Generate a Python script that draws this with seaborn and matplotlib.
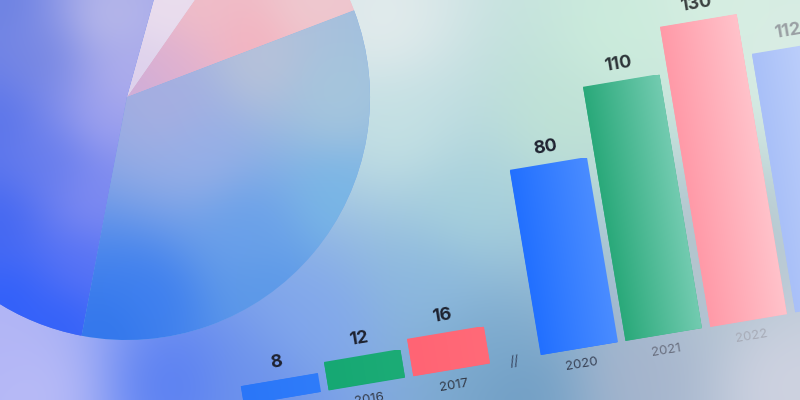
import numpy as np
import pandas as pd
import matplotlib
matplotlib.use("Agg")
import matplotlib.pyplot as plt
import seaborn as sns
from matplotlib.transforms import Affine2D
from matplotlib.colors import to_rgb

# --- data ---
years = ["2015", "2016", "2017", "2020", "2021", "2022", "2023"]
values = [8, 12, 16, 80, 110, 130, 112]
pie_shares = [9.5, 5.4, 51.3, 33.8]

# --- styles ---
bar_left = ["#2a76f8", "#16a873", "#ff6474", "#2270ff", "#2aa97a", "#ff9aa8", "#a9c0f8"]
bar_right = ["#2f7cfa", "#1cac76", "#ff6a78", "#4a8cff", "#72cbb0", "#ffc2ca", "#c6d6fc"]
value_colors = ["#1e2230", "#1e2230", "#1e2230", "#1e2230", "#2c3438", "#3a4040", "#9aa0a4"]
year_colors = ["#333a48", "#333a48", "#333a48", "#3a4458", "#6a7080", "#a8acb8", "#c0c4cc"]

# background anchors, image pixel coords (x, y from top)
bg_anchors = [
    (0, 350, "#b4b6f6"), (40, 395, "#c0c0f8"), (170, 385, "#5078f4"),
    (260, 395, "#6a90ec"), (320, 320, "#82a8ee"), (400, 130, "#c8e4e4"),
    (385, 25, "#e8eeee"), (470, 210, "#a8d4dc"), (430, 285, "#8ab8e0"),
    (480, 345, "#78a8cc"), (520, 392, "#6898c0"), (620, 40, "#cdeedc"),
    (720, 10, "#d8f0e2"), (785, 60, "#dceee6"), (640, 375, "#a8b4cc"),
    (785, 385, "#d2d4e2"), (560, 120, "#c0e4d4"), (700, 250, "#b4c4cc"),
]
pie_anchors = [
    # pink slice
    [(200, 8, "#f2c0c8"), (300, 8, "#eecdd2"), (170, 70, "#e0b0d0"),
     (140, 92, "#c8acdc"), (255, 40, "#f6b0bc")],
    # light slice
    [(165, 8, "#ecdfee"), (140, 70, "#dcd0ec")],
    # left slice
    [(0, 0, "#6a80e2"), (0, 120, "#5470ea"), (0, 220, "#3c62f2"),
     (10, 300, "#2a5cfc"), (60, 320, "#2c5efa"), (45, 60, "#7082e0"),
     (55, 160, "#6078ec"), (105, 20, "#c4c2ea"), (100, 120, "#a8a8f0"),
     (90, 200, "#8890f2"), (80, 270, "#5a74f6"), (122, 80, "#b8b4ec")],
    # large slice
    [(260, 65, "#bcc4d8"), (335, 100, "#a8c8dc"), (200, 150, "#98b0e8"),
     (335, 200, "#78b8e6"), (250, 230, "#68a0ea"), (150, 300, "#3c7ef0"),
     (270, 290, "#5a98e8"), (110, 332, "#2f74ec"), (170, 108, "#aaaee0")],
]

W, H = 800, 400
PITCH, SCALE = 86.0, 2.335
PIVOT = (540.7, 45.0)
ANGLE = 9.5


def soft_field(anchors, step=4, soft=60.0):
    gx, gy = np.meshgrid(np.arange(0, W, step) + step / 2, np.arange(0, H, step) + step / 2)
    num = np.zeros(gx.shape + (3,))
    den = np.zeros(gx.shape)
    for x, y, c in anchors:
        w = 1.0 / (((gx - x) ** 2 + (gy - y) ** 2) + soft ** 2) ** 1.5
        num += w[..., None] * np.array(to_rgb(c))
        den += w
    return num / den[..., None]


sns.set_theme(style="white")
plt.rcParams["font.family"] = ["Inter", "DejaVu Sans"]

fig = plt.figure(figsize=(8, 4), dpi=100)

# background + pie
axbg = fig.add_axes([0, 0, 1, 1])
axbg.imshow(soft_field(bg_anchors), extent=(0, W, 0, H), origin="upper",
            interpolation="bilinear", aspect="auto", zorder=0)
wedges, _ = axbg.pie(pie_shares, startangle=20.9, center=(127, 303), radius=243,
                     colors=["#f0c0cc", "#e8dcee", "#5070ee", "#7aaaea"],
                     wedgeprops=dict(linewidth=0))
for wdg, anchors in zip(wedges, pie_anchors):
    im = axbg.imshow(soft_field(anchors, soft=45.0), extent=(0, W, 0, H), origin="upper",
                     interpolation="bilinear", aspect="auto", zorder=2)
    im.set_clip_path(wdg)
axbg.set_xlim(0, W)
axbg.set_ylim(0, H)
axbg.set_aspect("auto")
axbg.set_axis_off()

# bars (drawn straight, then tilted)
slots = [i + 0.5 if i >= 3 else float(i) for i in range(len(years))]
df = pd.DataFrame({"year": years, "value": values, "slot": slots})

axb = fig.add_axes([0, 0, 1, 1])
sns.barplot(data=df, x="slot", y="value", hue="year", palette=bar_left,
            native_scale=True, width=0.9, saturation=1, errorbar=None,
            legend=False, ax=axb)
x_ref = 3.5 - 0.45
axb.set_autoscale_on(False)
axb.set_xlim(x_ref - PIVOT[0] / PITCH, x_ref + (W - PIVOT[0]) / PITCH)
axb.set_ylim(-PIVOT[1] / SCALE, (H - PIVOT[1]) / SCALE)
axb.set_axis_off()

rot = Affine2D().rotate_deg_around(PIVOT[0], PIVOT[1], ANGLE)
tr = axb.transData + rot

for p in list(axb.patches):
    cx = p.get_x() + p.get_width() / 2
    i = int(np.argmin([abs(cx - s) for s in slots]))
    p.set_transform(tr)
    p.set_linewidth(0)
    rgb = np.linspace(to_rgb(bar_left[i]), to_rgb(bar_right[i]), 64)
    grad = np.concatenate([rgb, np.ones((64, 1))], axis=1)[None, :, :]
    im = axb.imshow(grad, extent=(p.get_x(), p.get_x() + p.get_width(), 0, p.get_height()),
                    interpolation="bilinear", aspect="auto", zorder=3)
    im.set_transform(tr)
    im.set_clip_path(p)

for i, (s, v) in enumerate(zip(slots, values)):
    axb.text(s, v + 7.4, str(v), transform=tr, rotation=ANGLE, rotation_mode="anchor",
             ha="center", va="center", fontsize=13, fontweight="bold",
             color=value_colors[i], zorder=5)
    axb.text(s, -6.9, years[i], transform=tr, rotation=ANGLE, rotation_mode="anchor",
             ha="center", va="center", fontsize=9.5, color=year_colors[i], zorder=5)

axb.text(2.744, -0.7, "//", transform=tr, rotation=ANGLE, rotation_mode="anchor",
         ha="center", va="center", fontsize=10, color="#3c4a66", zorder=5)

axb.set_xlim(x_ref - PIVOT[0] / PITCH, x_ref + (W - PIVOT[0]) / PITCH)
axb.set_ylim(-PIVOT[1] / SCALE, (H - PIVOT[1]) / SCALE)
axb.set_aspect("auto")

fig.savefig("out.png", dpi=100)
